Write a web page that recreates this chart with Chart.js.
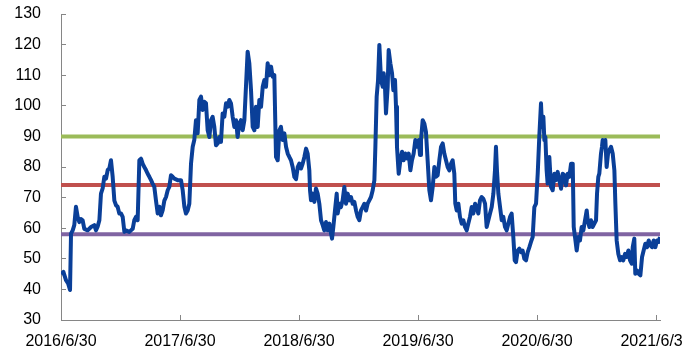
<!DOCTYPE html>
<html>
<head>
<meta charset="utf-8">
<script src="https://cdn.jsdelivr.net/npm/chart.js@4.4.0/dist/chart.umd.min.js"></script>
<style>
    html, body { margin: 0; padding: 0; overflow: hidden; background: #fff; width: 700px; height: 352px; }
    #wrap { width: 683px; height: 352px; overflow: hidden; }
    canvas { display: block; }
</style>
</head>
<body>
<div id="wrap"><canvas id="seriesChart" width="730" height="352"></canvas></div>
<script>
// months since 2016/6/30
const months = [
    0, 0.24, 0.5, 0.71, 0.91, 1.01, 1.18, 1.34, 1.51, 1.68, 1.85, 2.02, 2.18, 2.35, 2.69, 3.03, 3.36, 3.53, 3.7, 3.87,
    4.03, 4.2, 4.37, 4.54, 4.71, 4.87, 5.04, 5.21, 5.38, 5.55, 5.71, 5.88, 6.05, 6.22, 6.39, 6.55, 6.89, 7.23, 7.39, 7.56,
    7.73, 7.9, 8.07, 8.24, 8.4, 8.57, 8.74, 8.91, 9.08, 9.24, 9.41, 9.58, 9.75, 9.92, 10.08, 10.25, 10.42, 10.59, 10.76, 10.92,
    11.09, 11.26, 11.43, 11.76,
    // 2017/6 - 2018/6
    12.1, 12.27, 12.44, 12.6, 12.77, 12.94, 13.11, 13.28, 13.44, 13.61, 13.78, 13.95, 14.12, 14.28, 14.45, 14.62, 14.79, 14.96,
    15.13, 15.29, 15.46, 15.63, 15.8, 15.97, 16.13, 16.3, 16.47, 16.64, 16.81, 16.97, 17.14, 17.31, 17.48, 17.65, 17.81, 17.98,
    18.15, 18.32, 18.49, 18.65, 18.82, 18.99, 19.16, 19.33, 19.5, 19.66, 19.83, 20, 20.17, 20.34, 20.5, 20.67, 20.84, 21.01,
    21.18, 21.34, 21.51, 21.68, 21.85, 22.02, 22.18, 22.35, 22.52, 22.69, 22.86, 23.02, 23.19, 23.36, 23.53, 23.7,
    // 2018/6 - 2019/6
    23.87, 24.03, 24.2, 24.37, 24.54, 24.71, 24.87, 25.04, 25.11, 25.21, 25.38, 25.55, 25.71, 25.88, 26.05, 26.22, 26.39, 26.55, 26.72, 26.89,
    27.06, 27.23, 27.33, 27.46, 27.66, 27.8, 27.9, 28.07, 28.23, 28.4, 28.57, 28.74, 28.91, 29.08, 29.24, 29.41, 29.58, 29.75, 29.92, 30.08,
    30.25, 30.42, 30.59, 30.76, 30.92, 31.09, 31.26, 31.43, 31.6, 31.7, 31.83, 31.97, 32.1, 32.27, 32.44, 32.54, 32.67, 32.77, 32.94, 33.04,
    33.21, 33.38, 33.51, 33.68, 33.78, 33.88, 34.05, 34.22, 34.39, 34.55, 34.72, 34.89, 35.06, 35.23, 35.39, 35.56, 35.73, 35.9, 36.07, 36.2,
    // 2019/6 - 2020/6
    36.3, 36.47, 36.64, 36.8, 36.97, 37.14, 37.31, 37.48, 37.65, 37.81, 37.98, 38.15, 38.32, 38.49, 38.65,
    38.82, 38.99, 39.16, 39.33, 39.49, 39.66, 39.76, 39.9, 40.07, 40.23, 40.4, 40.57, 40.74, 40.91, 41.07,
    41.24, 41.41, 41.58, 41.75, 41.91, 42.08, 42.25, 42.42, 42.59, 42.76, 42.92, 43.09, 43.26, 43.43, 43.6,
    43.76, 43.86, 43.96, 44.1, 44.27, 44.44, 44.6, 44.77, 44.94, 45.11, 45.28, 45.44, 45.61, 45.75, 45.88,
    46.05, 46.22, 46.39, 46.55, 46.72, 46.89, 47.06, 47.23, 47.39, 47.56, 47.73, 47.9, 48.07, 48.23, 48.4,
    // 2020/6 - 2021/6
    48.5, 48.64, 48.74, 48.84, 48.97, 49.07, 49.24, 49.41, 49.58, 49.75, 49.91, 50.08, 50.25, 50.42, 50.59,
    50.76, 50.92, 51.09, 51.26, 51.43, 51.6, 51.7, 51.83, 52, 52.17, 52.33, 52.5, 52.67, 52.84, 53.01,
    53.11, 53.28, 53.44, 53.61, 53.78, 53.95, 54.05, 54.18, 54.28, 54.45, 54.55, 54.62, 54.79, 54.89, 55.02,
    55.16, 55.29, 55.46, 55.63, 55.8, 55.9, 56.03, 56.2, 56.37, 56.54, 56.7, 56.87, 57.04, 57.21, 57.38,
    57.55, 57.65, 57.81, 57.91, 58.08, 58.25, 58.42, 58.59, 58.75, 58.92, 59.09, 59.26, 59.43, 59.6, 59.76,
    59.93, 60.1, 60.27, 60.4
];

const values = [
    45, 45.7, 43, 42, 39.8, 58.2, 59.3, 61, 67, 63.7, 62, 63, 62.6, 59.8, 59.3, 60.4, 61, 59.3, 60.6, 62.6,
    71.3, 73, 76.8, 76.2, 79, 79.5, 82.2, 76.8, 69, 67.5, 67, 64.8, 64.8, 63.7, 58.8, 59.3, 58.8, 59.8, 62.6, 63.7,
    62.6, 82.2, 82.7, 81, 80, 79, 77.8, 76.8, 75.7, 74.6, 73.5, 69, 64.8, 67, 64.2, 65.8, 69, 70.2, 72.4, 73.5,
    77.3, 76.8, 76.2, 75.7,
    75.7, 72.4, 67, 64.8, 65.8, 68, 81.1, 86.6, 88.8, 95.3, 91, 101.9, 103, 98.6, 101.3, 100.8, 92, 89.8,
    95.3, 96.4, 93.1, 87.1, 87.7, 89.8, 88.2, 97.5, 96.4, 100.8, 99.7, 101.9, 100.8, 96.4, 93.1, 95.3, 89.8, 94.2,
    95.3, 92, 95.3, 106.2, 117.7, 113.9, 105.1, 93.1, 92, 99.7, 93.1, 101.9, 99.7, 106.2, 108.4, 106.2, 113.9, 110,
    112.8, 109.5, 110, 83.3, 82.2, 92, 93.1, 88.8, 91, 86.6, 84.4, 83.3, 82.2, 80, 76.8, 76,
    80, 81.1, 79.5, 81.1, 83.3, 86, 84.4, 78.9, 72.4, 69.1, 71.3, 68.6, 73, 71.3, 68, 62.6, 61, 59.3, 62, 59.3,
    61.5, 58.2, 56.6, 60.4, 66.9, 71.3, 64.8, 68, 66.9, 69.1, 73.5, 68, 71.3, 69.1, 70.2, 68, 68.6, 65.8, 63.7, 62.6,
    65.8, 66.9, 68, 65.8, 68, 69.1, 70.2, 72.4, 75.7, 86.6, 103, 108.4, 119.9, 108.4, 106.2, 110.6, 106.2, 97.5, 106.2, 118.2,
    113.9, 110.6, 105.1, 108.4, 99.7, 86.6, 77.8, 82.2, 85, 82.2, 84.4, 82.8, 84.4, 78.9, 82.2, 84.4, 88.8, 86.6, 88.8, 83.9,
    88.8, 95.3, 94.2, 91.5, 82.2, 72.4, 69.1, 73.5, 80, 76.8, 77.3, 82.2, 86.6, 87.7, 84.4,
    82.2, 80, 78.9, 81.1, 82.2, 77.8, 68, 65.8, 68, 63.7, 61.5, 62.6, 60.4, 59.3, 61.5,
    63.7, 66.9, 64.8, 68, 66.9, 64.8, 69.1, 70.2, 69.6, 68, 60.4, 62.6, 64.8, 66.9, 71.3,
    78.9, 86.6, 78.9, 71.3, 66.9, 62.6, 63.7, 60.4, 59.3, 61.5, 63.7, 64.8, 57.1, 49.5, 48.9,
    52.7, 53.3, 52.2, 52.7, 50, 49.5, 52.2, 53.8, 55.5, 57.1, 66.9, 68, 77.8, 90, 100.8,
    93.1, 96.4, 88.8, 89.8, 78.9, 74.6, 83.3, 73.5, 72.4, 77.8, 75.7, 78.4, 75.7, 72.9, 77.8,
    77.3, 74, 77.8, 76.8, 81.1, 81.1, 60.4, 57.1, 52.7, 57.1, 56, 60.4, 59.3, 62.6, 65.8,
    62.6, 60.4, 62.6, 60.4, 61.5, 62.6, 71.3, 76.8, 77.8, 84.4, 86.6, 88.8, 86.6, 88.8, 80,
    84.4, 85.5, 86.6, 84.4, 78.9, 68, 56, 51.6, 49.5, 50.6, 49.5, 51.6, 50.6, 52.7, 49.5,
    48.4, 53.8, 56.6, 45.1, 46.2, 45.1, 44.6, 50.6, 52.7, 54.9, 53.8, 56, 54.4, 53.8, 56,
    53.8, 56, 55.5, 57.1
];

// horizontal reference levels
const levels = [90, 74.1, 58];

const tickMonths = [0, 12, 24, 36, 48, 60];
const tickLabels = ["2016/6/30", "2017/6/30", "2018/6/30", "2019/6/30", "2020/6/30", "2021/6/30"];

const xEnd = 60.4;
const levelColors = ["#9BBB59", "#C0504D", "#8064A2"];
const axisColor = "#868686";
const font = { family: "'Liberation Sans', Arial, sans-serif", size: 16 };

const datasets = [{
    data: months.map((m, i) => ({ x: m, y: values[i] })),
    borderColor: "#0A3F98",
    borderWidth: 4,
    borderJoinStyle: "round",
    pointRadius: 0,
    tension: 0
}];
levels.forEach((lv, i) => {
    datasets.push({
        data: [{ x: 0, y: lv }, { x: xEnd, y: lv }],
        borderColor: levelColors[i],
        borderWidth: 4,
        pointRadius: 0
    });
});

new Chart(document.getElementById("seriesChart"), {
    type: "line",
    data: { datasets },
    options: {
        responsive: false,
        animation: false,
        layout: { padding: { top: 14, right: 70, left: 0, bottom: 0 } },
        plugins: { legend: { display: false }, tooltip: { enabled: false } },
        scales: {
            x: {
                type: "linear",
                min: 0,
                max: xEnd,
                afterFit: s => { s.height = 32; s.paddingLeft = 0; s.paddingRight = 0; },
                afterBuildTicks: s => { s.ticks = tickMonths.map(v => ({ value: v })); },
                grid: { drawOnChartArea: false, tickLength: -5, color: axisColor },
                border: { color: axisColor, width: 1 },
                ticks: {
                    padding: 17,
                    maxRotation: 0,
                    autoSkip: false,
                    color: "#000",
                    font,
                    callback: v => tickLabels[tickMonths.indexOf(v)] || ""
                }
            },
            y: {
                min: 30,
                max: 130,
                afterFit: s => { s.width = 61; s.paddingTop = 0; s.paddingBottom = 0; },
                grid: { drawOnChartArea: false, tickLength: -5, color: axisColor },
                border: { color: axisColor, width: 1 },
                ticks: { stepSize: 10, padding: 25, color: "#000", font }
            }
        }
    }
});
</script>
</body>
</html>
